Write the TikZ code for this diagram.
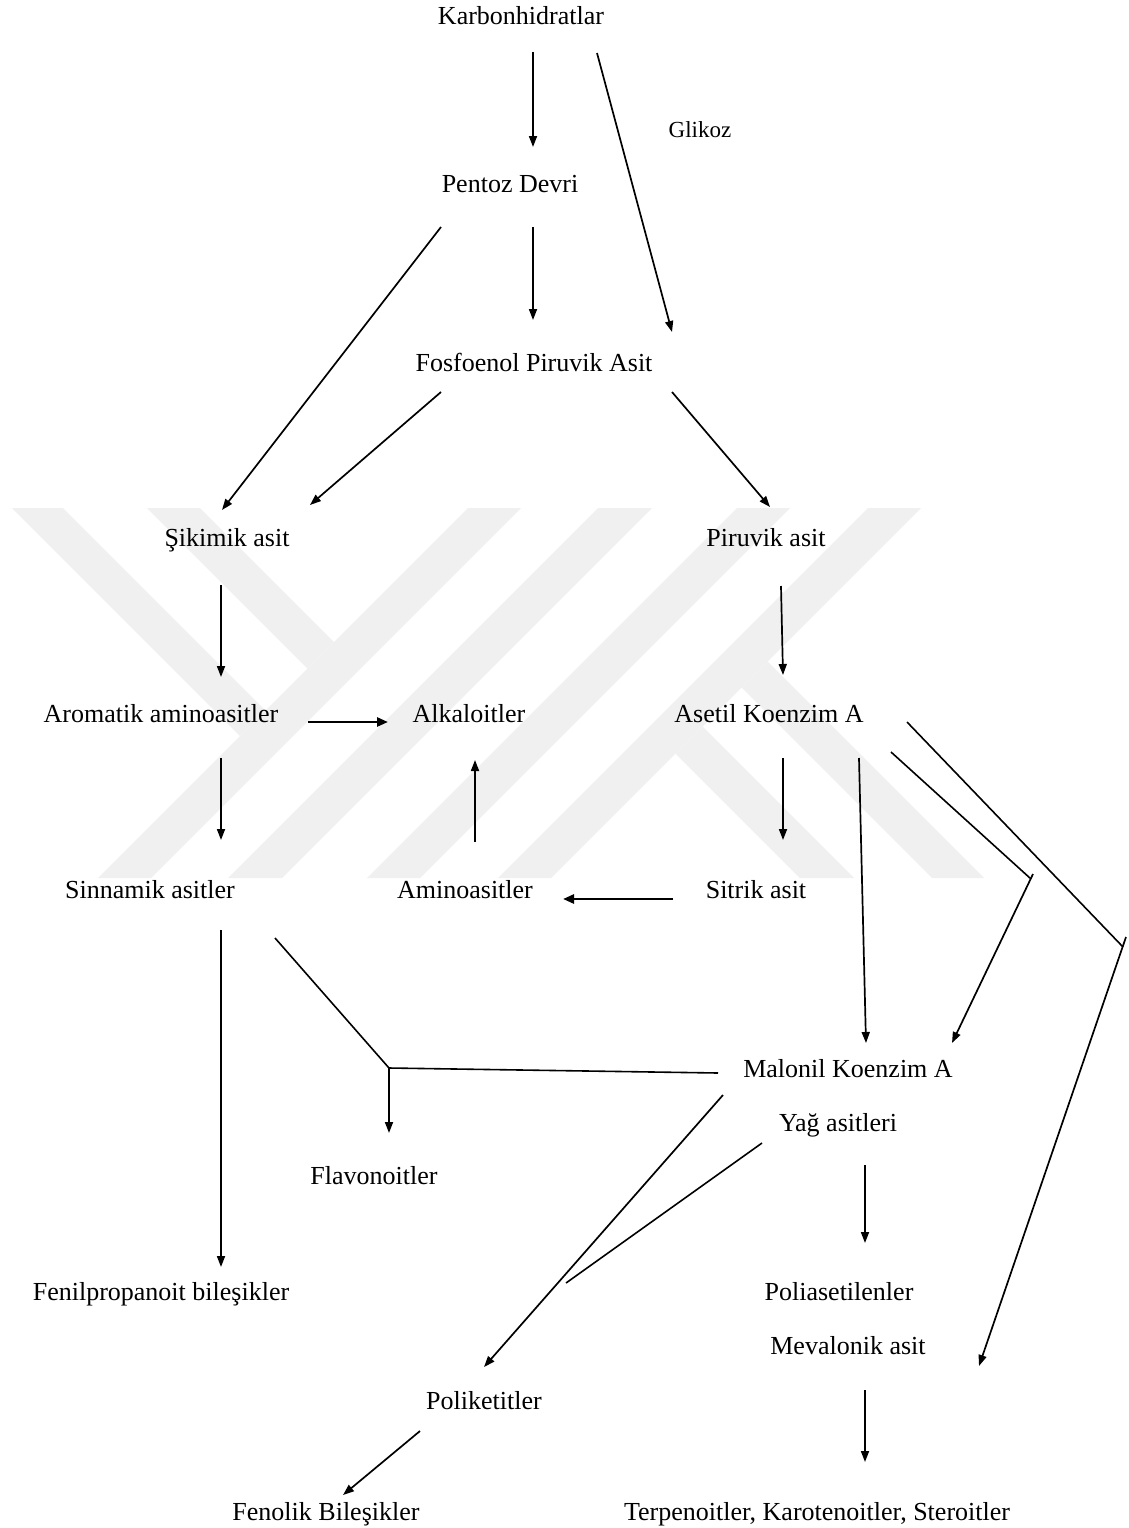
\documentclass[tikz,border=0pt]{standalone}
\usepackage{fontspec}
\setmainfont{Liberation Serif}
\usetikzlibrary{arrows.meta}
\begin{document}
\begin{tikzpicture}[x=1pt,y=-1pt,
  lbl/.style={anchor=base,inner sep=0pt,font=\fontsize{26}{30}\selectfont},
  lblsmall/.style={anchor=base,inner sep=0pt,font=\fontsize{23}{27}\selectfont},
  ln/.style={line width=1.6pt},
  arr/.style={line width=1.7pt,-{Triangle[length=11pt,width=8pt]}},
  tarr/.style={line width=2.6pt,-{Triangle[length=11pt,width=9pt]}},
  wm/.style={fill=black!6,draw=none}]
\useasboundingbox (0,0) rectangle (1129,1528);
\fill[white] (0,0) rectangle (1129,1528);
% ---------- watermark ----------
\fill[wm] (12,508) -- (63,508) -- (265.5,710.5) -- (240,736) -- cycle;
\fill[wm] (147,508) -- (200,508) -- (334,642) -- (307.5,668.5) -- cycle;
\fill[wm] (468,508) -- (521,508) -- (151,878) -- (98,878) -- cycle;
\fill[wm] (598,508) -- (652,508) -- (282,878) -- (228,878) -- cycle;
\fill[wm] (737,508) -- (790,508) -- (420,878) -- (367,878) -- cycle;
\fill[wm] (868,508) -- (921,508) -- (551,878) -- (498,878) -- cycle;
\fill[wm] (675.5,753.5) -- (702.5,726.5) -- (854,878) -- (800,878) -- cycle;
\fill[wm] (741.5,687.5) -- (767.5,661.5) -- (984,878) -- (932,878) -- cycle;
% ---------- nodes ----------
\node[lbl] (karb) at (521,25) {Karbonhidratlar};
\node[lblsmall] (glik) at (700,137) {Glikoz};
\node[lbl] (pent) at (510,192) {Pentoz Devri};
\node[lbl] (fosf) at (534,371) {Fosfoenol Piruvik Asit};
\node[lbl] (siki) at (227,546) {Şikimik asit};
\node[lbl] (piru) at (766,546) {Piruvik asit};
\node[lbl] (arom) at (161,722) {Aromatik aminoasitler};
\node[lbl] (alka) at (469,722) {Alkaloitler};
\node[lbl] (aset) at (769,722) {Asetil Koenzim A};
\node[lbl] (sinn) at (150,898) {Sinnamik asitler};
\node[lbl] (amin) at (465,898) {Aminoasitler};
\node[lbl] (sitr) at (756,898) {Sitrik asit};
\node[lbl] (malo) at (848,1077) {Malonil Koenzim A};
\node[lbl] (yag)  at (838,1131) {Yağ asitleri};
\node[lbl] (flav) at (374,1184) {Flavonoitler};
\node[lbl] (feni) at (161,1300) {Fenilpropanoit bileşikler};
\node[lbl] (poli) at (839,1300) {Poliasetilenler};
\node[lbl] (meva) at (848,1354) {Mevalonik asit};
\node[lbl] (polk) at (484,1409) {Poliketitler};
\node[lbl] (feno) at (326,1520) {Fenolik Bileşikler};
\node[lbl] (terp) at (817,1520) {Terpenoitler, Karotenoitler, Steroitler};
% ---------- connector end points ----------
\coordinate (k1) at (533,52);   \coordinate (p1) at (533,147);
\coordinate (k2) at (597,53);   \coordinate (f1) at (672,332);
\coordinate (p2) at (533,227);  \coordinate (f2) at (533,320);
\coordinate (p3) at (441,227);  \coordinate (s1) at (222,510);
\coordinate (f3) at (441,392);  \coordinate (s2) at (310,505);
\coordinate (f4) at (672,392);  \coordinate (r1) at (770,507);
\coordinate (s3) at (221,585);  \coordinate (a1) at (221,677);
\coordinate (r2) at (781,586);  \coordinate (e1) at (783,675);
\coordinate (a2) at (308,722);  \coordinate (l1) at (388,722);
\coordinate (a3) at (221,758);  \coordinate (n1) at (221,840);
\coordinate (m1) at (475,842);  \coordinate (l2) at (475,760);
\coordinate (e2) at (783,758);  \coordinate (t1) at (783,840);
\coordinate (t2) at (673,899);  \coordinate (m2) at (563,899);
\coordinate (e3) at (859,758);  \coordinate (o1) at (866,1043);
\coordinate (e4) at (891,752);  \coordinate (b1) at (1031,879);
\coordinate (b1s) at (1033,874); \coordinate (o2) at (952,1043);
\coordinate (e5) at (907,722);  \coordinate (b2) at (1123,947);
\coordinate (b2s) at (1126,937); \coordinate (v1) at (979,1366);
\coordinate (n2) at (275,938);  \coordinate (jn) at (389,1068);
\coordinate (o3) at (718,1073); \coordinate (fl) at (389,1133);
\coordinate (n3) at (221,930);  \coordinate (fp) at (221,1267);
\coordinate (o4) at (723,1095); \coordinate (pk) at (484,1367);
\coordinate (y1) at (762,1143); \coordinate (mg) at (566,1283);
\coordinate (y2) at (865,1165); \coordinate (pa) at (865,1243);
\coordinate (v2) at (865,1390); \coordinate (tp) at (865,1462);
\coordinate (pk2) at (420,1431); \coordinate (fn) at (343,1495);
% ---------- connectors ----------
\draw[arr] (k1) -- (p1);
\draw[arr] (k2) -- (f1);
\draw[arr] (p2) -- (f2);
\draw[arr] (p3) -- (s1);
\draw[arr] (f3) -- (s2);
\draw[arr] (f4) -- (r1);
\draw[arr] (s3) -- (a1);
\draw[arr] (r2) -- (e1);
\draw[tarr] (a2) -- (l1);
\draw[arr] (a3) -- (n1);
\draw[arr] (m1) -- (l2);
\draw[arr] (e2) -- (t1);
\draw[tarr] (t2) -- (m2);
\draw[arr] (e3) -- (o1);
\draw[ln] (e4) -- (b1);
\draw[arr] (b1s) -- (o2);
\draw[ln] (e5) -- (b2);
\draw[arr] (b2s) -- (v1);
\draw[ln] (n2) -- (jn) -- (o3);
\draw[arr] (jn) -- (fl);
\draw[arr] (n3) -- (fp);
\draw[arr] (o4) -- (pk);
\draw[ln] (y1) -- (mg);
\draw[arr] (y2) -- (pa);
\draw[arr] (v2) -- (tp);
\draw[arr] (pk2) -- (fn);
\end{tikzpicture}
\end{document}
